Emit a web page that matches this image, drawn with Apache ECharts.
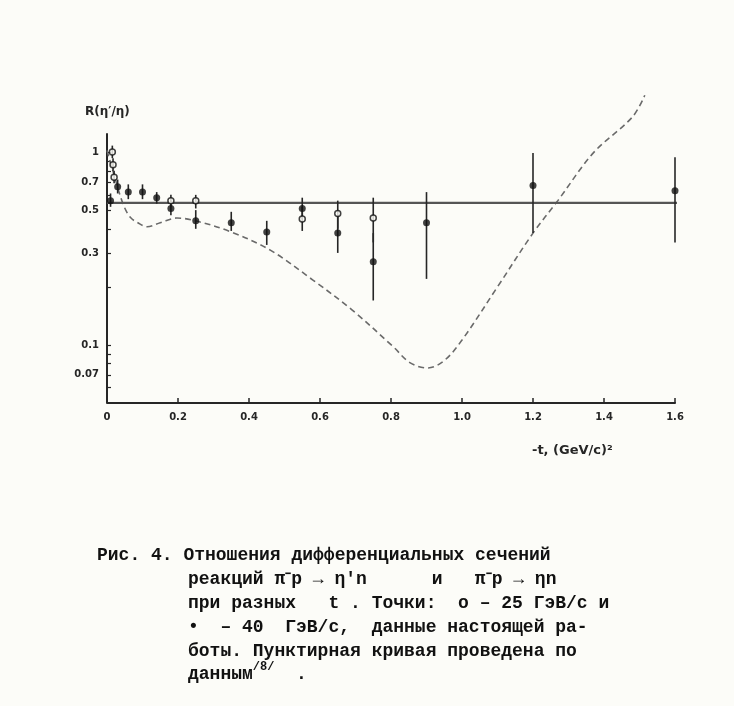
<!DOCTYPE html>
<html><head><meta charset="utf-8">
<script src="https://cdn.jsdelivr.net/npm/echarts@6/dist/echarts.min.js"></script>
<style>html,body{margin:0;padding:0;background:#fcfcf8}#c{width:734px;height:706px}</style>
</head><body><div id="c"></div><script>
// ---- data ----
const xTickLabels = ['0','0.2','0.4','0.6','0.8','1.0','1.2','1.4','1.6'];
const yLabelValues = [0.07, 0.1, 0.3, 0.5, 0.7, 1];
const yTickValues = [0.06,0.07,0.08,0.09,0.1,0.2,0.3,0.4,0.5,0.6,0.7,0.8,0.9,1];

// 40 GeV/c (filled points)
const filledX  = [0.01, 0.03, 0.06, 0.10, 0.14, 0.18, 0.25, 0.35, 0.45, 0.55, 0.65, 0.75, 0.90, 1.20, 1.60];
const filledY  = [0.56, 0.66, 0.62, 0.62, 0.58, 0.51, 0.44, 0.43, 0.385, 0.51, 0.38, 0.27, 0.43, 0.67, 0.63];
const filledLo = [0.52, 0.61, 0.57, 0.57, 0.54, 0.47, 0.40, 0.39, 0.33, 0.45, 0.30, 0.17, 0.22, 0.38, 0.34];
const filledHi = [0.61, 0.72, 0.68, 0.68, 0.62, 0.56, 0.50, 0.49, 0.44, 0.58, 0.47, 0.38, 0.62, 0.99, 0.94];

// 25 GeV/c (open points)
const openX  = [0.015, 0.017, 0.02, 0.18, 0.25, 0.55, 0.65, 0.75];
const openY  = [1.0, 0.86, 0.74, 0.56, 0.56, 0.45, 0.48, 0.455];
const openLo = [0.93, 0.80, 0.69, 0.52, 0.51, 0.39, 0.40, 0.34];
const openHi = [1.08, 0.93, 0.80, 0.60, 0.60, 0.52, 0.56, 0.58];

// dashed curve (from ref. /8/)
const curveX = [0, 0.02, 0.045, 0.065, 0.087, 0.113, 0.15, 0.197, 0.25, 0.35, 0.46, 0.58, 0.69, 0.806, 0.853, 0.904, 0.95, 1.0, 1.1, 1.2, 1.27, 1.37, 1.48, 1.515];
const curveY = [1.02, 0.76, 0.54, 0.46, 0.43, 0.41, 0.43, 0.455, 0.44, 0.385, 0.31, 0.217, 0.152, 0.098, 0.081, 0.076, 0.083, 0.106, 0.20, 0.38, 0.56, 0.99, 1.52, 1.97];

// horizontal level line and visible y-axis extent
const levelValue = 0.545;
const levelXSpan = [0, 1.64];
const yAxisSpan = [0.05, 1.25];

const captionFirst = 'Рис. 4. Отношения дифференциальных сечений';
const captionLines = [
  'реакций π⁻p → η′n      и   π⁻p → ηn',
  'при разных   t . Точки:  o – 25 ГэВ/с и',
  '•  – 40  ГэВ/с,  данные настоящей ра-',
  'боты. Пунктирная кривая проведена по'
];

// ---- chart ----
const chart = echarts.init(document.getElementById('c'), null, {renderer: 'canvas'});
const zip = (a, b) => a.map((v, i) => [v, b[i]]);
const zip3 = (a, b, c) => a.map((v, i) => [v, b[i], c[i]]);
const ink = '#262626';
const labelFont = {color: ink, fontFamily: 'DejaVu Sans', fontSize: 10, fontWeight: 'bold'};

function errBar(params, api) {
  const x = api.value(0);
  const p1 = api.coord([x, api.value(1)]);
  const p2 = api.coord([x, api.value(2)]);
  return {type: 'line', shape: {x1: p1[0], y1: p1[1], x2: p2[0], y2: p2[1]},
          style: {stroke: ink, lineWidth: 1.6}};
}

const capFont = 'bold 18px "Liberation Mono"';
const capText = (x, y, text) => ({type: 'text', x: x, y: y,
  style: {text: text, font: capFont, fill: '#111', verticalAlign: 'middle'}});
const graphics = [
  {type: 'text', left: 85, top: 106, style: {text: "R(η′/η)", font: 'bold 12px "DejaVu Sans"', fill: ink}},
  {type: 'text', left: 532, top: 444, style: {text: '-t, (GeV/c)²', font: 'bold 13px "DejaVu Sans"', fill: ink}},
  capText(97, 555, captionFirst)
];
captionLines.forEach((t, i) => graphics.push(capText(188, 579 + i * 24, t)));
graphics.push({type: 'text', x: 188, y: 674, style: {
  verticalAlign: 'middle',
  rich: {a: {font: capFont, fill: '#111'},
         s: {font: 'bold 12px "Liberation Mono"', fill: '#111', verticalAlign: 'top', padding: [0, 0, 14, 0]}},
  text: '{a|данным}{s|/8/}{a|  .}'}});

chart.setOption({
  backgroundColor: '#fcfcf8',
  animation: false,
  grid: {left: 107, right: 59, top: 94, bottom: 303},
  xAxis: {
    type: 'value', min: 0, max: 1.6, interval: 0.2,
    axisLine: {lineStyle: {color: ink, width: 2}},
    axisTick: {inside: true, length: 5, lineStyle: {color: ink, width: 1.5}},
    axisLabel: Object.assign({margin: 9, formatter: (v) => xTickLabels[Math.round(v / 0.2)]}, labelFont),
    splitLine: {show: false}
  },
  yAxis: {
    type: 'log', logBase: 10, min: 0.05, max: 2,
    axisLine: {show: false},
    axisTick: {show: true, inside: true, length: 4, customValues: yTickValues, lineStyle: {color: ink, width: 1.2}},
    axisLabel: Object.assign({margin: 8, customValues: yLabelValues, formatter: (v) => String(Number(v.toPrecision(3)))}, labelFont),
    splitLine: {show: false}, minorTick: {show: false}
  },
  graphic: graphics,
  series: [
    {type: 'line', data: [[0, yAxisSpan[0]], [0, yAxisSpan[1]]], symbol: 'none', clip: false,
     lineStyle: {color: ink, width: 2}, silent: true, z: 1},
    {type: 'line', data: zip(curveX, curveY), smooth: 0.35, symbol: 'none', clip: false,
     lineStyle: {color: '#6a6a6a', width: 1.6, type: [6, 4]}, z: 2},
    {type: 'line', data: levelXSpan.map(x => [x, levelValue]), symbol: 'none', clip: false,
     lineStyle: {color: '#555', width: 2.4}, z: 2},
    {type: 'custom', data: zip3(filledX, filledLo, filledHi), renderItem: errBar, clip: false, z: 3},
    {type: 'custom', data: zip3(openX, openLo, openHi), renderItem: errBar, clip: false, z: 3},
    {type: 'scatter', data: zip(filledX, filledY), symbol: 'circle', symbolSize: 7,
     itemStyle: {color: '#111'}, clip: false, z: 4},
    {type: 'scatter', data: zip(openX, openY), symbol: 'circle', symbolSize: 6,
     itemStyle: {color: '#fcfcf8', borderColor: '#111', borderWidth: 1.5}, clip: false, z: 4}
  ]
});
</script></body></html>
